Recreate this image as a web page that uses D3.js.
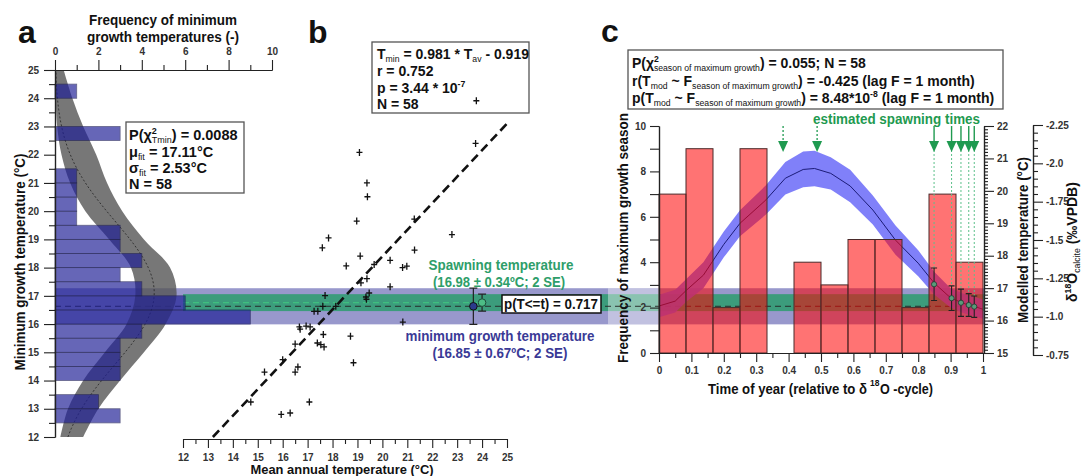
<!DOCTYPE html>
<html><head><meta charset="utf-8">
<script src="https://cdn.jsdelivr.net/npm/d3@7"></script>
<style>
body{margin:0;background:#fff}
text{font-family:"Liberation Sans",Arial,sans-serif;font-weight:bold;fill:#111}
.tick text{font-family:"Liberation Sans",Arial,sans-serif;font-weight:bold;fill:#333}
</style></head><body>
<svg id="fig" width="1082" height="476"></svg>
<script>
// ---- panel a: histogram of minimum growth temperatures (lower bin edge, 0.5 degC bins)
const binLow = [12.5, 13, 14, 14.5, 15, 15.5, 16, 16.5, 17, 17.5, 18, 18.5, 19, 19.5, 20, 20.5, 21, 22.5, 24];
const binCount = [3, 2, 3, 3, 3, 4, 9, 6, 4, 3, 4, 3, 3, 1, 1, 1, 1, 3, 1];
const fitMu = 17.11, fitSigma = 2.53, fitN = 58, binWidth = 0.5;
// grey envelope of the fit
const envT = [12, 13, 14, 15, 16, 17, 18, 19, 20, 21, 22, 23, 24, 25];
const envLo = [0.25, 0.6, 1.3, 2.3, 3.3, 3.7, 3.5, 2.5, 1.4, 0.7, 0.3, 0.1, 0.03, 0];
const envHi = [1.3, 2.0, 3.0, 4.1, 5.1, 5.6, 5.3, 4.1, 3.1, 2.4, 1.9, 1.3, 0.8, 0.4];

// ---- panel b: mean annual vs minimum growth temperature
const tav = [23.77, 23.74, 19.08, 19.38, 19.40, 18.97, 21.28, 22.79, 17.84, 17.59, 21.29, 19.11, 18.55, 20.31, 20.81, 20.98,
  19.67, 19.38, 19.14, 20.31, 19.47, 19.34, 19.36, 17.70, 17.61, 18.13, 17.26, 17.41, 20.82, 16.67, 16.70, 16.94, 17.10,
  17.63, 18.72, 16.50, 17.39, 17.53, 17.66, 16.00, 18.84, 15.27, 16.61, 16.50, 14.72, 17.07, 15.94, 16.30];
const tmin = [23.91, 22.40, 22.08, 21.00, 20.51, 19.65, 19.72, 19.17, 19.05, 18.70, 18.62, 18.41, 18.06, 18.26, 18.00, 18.05,
  18.11, 17.61, 17.46, 17.32, 17.10, 16.96, 16.88, 17.01, 16.63, 16.63, 16.45, 16.45, 16.07, 15.90, 15.82, 15.93, 15.90,
  15.63, 15.57, 15.29, 15.33, 15.27, 15.19, 14.74, 14.63, 14.30, 14.48, 14.30, 13.24, 13.24, 12.80, 12.85];
const regX = [13.2, 25.0], regY = [12.0, 23.1];
const minGrowth = {mid: 16.63, half: 0.64, x: 23.65};
const spawning = {mid: 16.76, half: 0.30, x: 24.0};

// ---- panel c: season of maximum growth
const monthCounts = [7, 9, 2, 9, 0, 4, 3, 5, 5, 2, 7, 4];
const modelT = [0, 0.05, 0.085, 0.137, 0.2, 0.25, 0.33, 0.39, 0.445, 0.48, 0.53, 0.59, 0.66, 0.73, 0.8, 0.85, 0.9, 0.935, 0.955, 0.975, 1];
const modelTemp = [16.45, 16.6, 16.94, 17.4, 18.35, 19.0, 19.72, 20.39, 20.66, 20.69, 20.54, 20.15, 19.41, 18.48, 17.77, 17.15, 16.7, 16.55, 16.48, 16.43, 16.35];
const modelSpread = [0.35, 0.35, 0.35, 0.4, 0.4, 0.4, 0.45, 0.5, 0.55, 0.55, 0.5, 0.5, 0.45, 0.45, 0.4, 0.35, 0.3, 0.3, 0.3, 0.3, 0.3];
const spawnT = [0.849, 0.903, 0.932, 0.956, 0.973];
const spawnTemp = [17.12, 16.69, 16.55, 16.48, 16.43];
const spawnErr = [0.5, 0.38, 0.42, 0.35, 0.33];
const dottedArrowT = [0.383, 0.488];
const d18Ticks = [-2.25, -2.0, -1.75, -1.5, -1.25, -1.0, -0.75];
const d18Labels = ["-2.25", "-2.0", "-1.75", "-1.5", "-1.25", "-1.0", "-0.75"];

const svg = d3.select("#fig");

// scales
const yT = d3.scaleLinear().domain([12, 25]).range([437, 70]);
const xF = d3.scaleLinear().domain([0, 10]).range([55, 272]);
const xB = d3.scaleLinear().domain([12, 25]).range([183, 507]);
const xC = d3.scaleLinear().domain([0, 1]).range([659, 983]);
const yCf = d3.scaleLinear().domain([0, 10]).range([353, 126]);
const yCt = d3.scaleLinear().domain([15, 22]).range([353, 126]);
const yCd = d3.scaleLinear().domain([-0.75, -2.25]).range([355, 125]);

// text with sub/superscripts; a part is "str" or [str, "sub"|"sup", dx]
function rich(sel, parts, size, len) {
  let shift = 0;
  parts.forEach(p => {
    const s = typeof p === "string" ? p : p[0];
    const kind = typeof p === "string" ? "n" : p[1];
    const target = kind === "sub" ? size * 0.18 : kind === "sup" ? -size * 0.4 : 0;
    const t = sel.append("tspan").attr("dy", target - shift)
      .attr("font-size", kind === "n" ? size : size * 0.62).text(s);
    if (kind === "sub") t.attr("font-weight", "normal");
    if (typeof p !== "string" && p[2]) t.attr("dx", p[2]);
    shift = target;
  });
  if (len) sel.attr("textLength", len).attr("lengthAdjust", "spacingAndGlyphs");
  return sel;
}
function label(g, x, y, str, size, len, color, anchor) {
  const t = g.append("text").attr("x", x).attr("y", y).attr("font-size", size)
    .attr("text-anchor", anchor || "start").text(str);
  if (len) t.attr("textLength", len).attr("lengthAdjust", "spacingAndGlyphs");
  if (color) t.style("fill", color);
  return t;
}

// ---------- horizontal temperature bands across panels ----------
const bandG = svg.append("g");
bandG.append("rect").attr("x", 55).attr("width", 984 - 55)
  .attr("y", yT(minGrowth.mid + minGrowth.half))
  .attr("height", yT(minGrowth.mid - minGrowth.half) - yT(minGrowth.mid + minGrowth.half))
  .attr("fill", "#9898cc");
bandG.append("rect").attr("x", xB(12)).attr("width", 984 - xB(12))
  .attr("y", yT(spawning.mid + spawning.half))
  .attr("height", yT(spawning.mid - spawning.half) - yT(spawning.mid + spawning.half))
  .attr("fill", "#3c9c7c");
bandG.append("rect").attr("x", 608).attr("width", 51)
  .attr("y", yT(minGrowth.mid + minGrowth.half))
  .attr("height", yT(minGrowth.mid - minGrowth.half) - yT(minGrowth.mid + minGrowth.half))
  .attr("fill", "#fff").attr("opacity", 0.4);
bandG.append("line").attr("x1", xB(12)).attr("x2", xB(spawning.x) - 4)
  .attr("y1", yT(spawning.mid)).attr("y2", yT(spawning.mid))
  .attr("stroke", "#3fbf7f").attr("stroke-width", 1.2).attr("stroke-dasharray", "6,4");
bandG.append("line").attr("x1", 55).attr("x2", 984)
  .attr("y1", yT(minGrowth.mid)).attr("y2", yT(minGrowth.mid))
  .attr("stroke", "#222").attr("stroke-width", 0.9).attr("stroke-dasharray", "6,4");

// ---------- panel a ----------
const a = svg.append("g");
const env = envT.map((t, i) => ({t: t, lo: envLo[i], hi: envHi[i]}));
a.append("path").datum(env)
  .attr("d", d3.area().y(d => yT(d.t)).x0(d => xF(d.lo)).x1(d => xF(d.hi)).curve(d3.curveCatmullRom))
  .attr("fill", "#555").attr("opacity", 0.8);
const fitPts = d3.range(12, 25.001, 0.1).map(t => ({t: t,
  f: fitN * binWidth / (fitSigma * Math.sqrt(2 * Math.PI)) * Math.exp(-((t - fitMu) ** 2) / (2 * fitSigma ** 2))}));
a.append("path").datum(fitPts)
  .attr("d", d3.line().y(d => yT(d.t)).x(d => xF(d.f)))
  .attr("fill", "none").attr("stroke", "#222").attr("stroke-width", 0.8).attr("stroke-dasharray", "2,2");
a.selectAll("rect.bar").data(binLow).enter().append("rect")
  .attr("x", xF(0)).attr("y", d => yT(d + binWidth))
  .attr("width", (d, i) => xF(binCount[i]) - xF(0))
  .attr("height", d => yT(d) - yT(d + binWidth))
  .attr("fill", "#1e1e96").attr("opacity", 0.68)
  .attr("stroke", "#1a1a50").attr("stroke-width", 0.8);

a.append("g").attr("transform", "translate(55,0)")
  .call(d3.axisLeft(yT).tickValues(d3.range(12, 26)).tickSize(11).tickSizeOuter(0).tickPadding(5));
a.append("g").attr("transform", "translate(55,0)")
  .call(d3.axisLeft(yT).tickValues(d3.range(12.5, 25, 1)).tickSize(6).tickSizeOuter(0).tickFormat(""));
a.append("g").attr("transform", "translate(0,70)")
  .call(d3.axisTop(xF).tickValues([0, 2, 4, 6, 8, 10]).tickSize(10).tickSizeOuter(0).tickPadding(5));
a.append("g").attr("transform", "translate(0,70)")
  .call(d3.axisTop(xF).tickValues([1, 3, 5, 7, 9]).tickSize(5).tickSizeOuter(0).tickFormat(""));

label(a, 163, 25, "Frequency of minimum", 14, 148, null, "middle");
label(a, 163, 42, "growth temperatures (-)", 14, 152, null, "middle");
a.append("text").attr("transform", "translate(25,262) rotate(-90)").attr("text-anchor", "middle")
  .attr("font-size", 14).attr("textLength", 217).attr("lengthAdjust", "spacingAndGlyphs")
  .text("Minimum growth temperature (°C)");

a.append("rect").attr("x", 126).attr("y", 122).attr("width", 118).attr("height", 71)
  .attr("fill", "#fff").attr("stroke", "#555").attr("stroke-width", 1.3);
rich(a.append("text").attr("x", 129).attr("y", 140), ["P(χ", ["2", "sup"], ["Tmin", "sub", -5], ") = 0.0088"], 14.5);
rich(a.append("text").attr("x", 129).attr("y", 157), ["μ", ["fit", "sub"], " = 17.11°C"], 14.5);
rich(a.append("text").attr("x", 129).attr("y", 173), ["σ", ["fit", "sub"], " = 2.53°C"], 14.5);
rich(a.append("text").attr("x", 129).attr("y", 189), ["N = 58"], 14.5);

// ---------- panel b ----------
const b = svg.append("g");
b.append("rect").attr("x", 372).attr("y", 42).attr("width", 157).attr("height", 71)
  .attr("fill", "#fff").attr("stroke", "#555").attr("stroke-width", 1.3);
rich(b.append("text").attr("x", 377).attr("y", 59), ["T", ["min", "sub"], " = 0.981 * T", ["av", "sub"], " - 0.919"], 14);
rich(b.append("text").attr("x", 377).attr("y", 76), ["r = 0.752"], 14);
rich(b.append("text").attr("x", 377).attr("y", 93), ["p = 3.44 * 10", ["-7", "sup"]], 14);
rich(b.append("text").attr("x", 377).attr("y", 109), ["N = 58"], 14);

b.append("line").attr("x1", xB(regX[0])).attr("y1", yT(regY[0])).attr("x2", xB(regX[1])).attr("y2", yT(regY[1]))
  .attr("stroke", "#111").attr("stroke-width", 2.6).attr("stroke-dasharray", "9,5");
b.selectAll("path.pt").data(tav).enter().append("path")
  .attr("transform", (d, i) => `translate(${xB(d)},${yT(tmin[i])})`)
  .attr("d", "M-3,0H3M0,-3.5V3.5").attr("stroke", "#111").attr("stroke-width", 1.3);

b.append("g").attr("transform", "translate(0,439)")
  .call(d3.axisBottom(xB).tickValues(d3.range(12, 26)).tickSize(9).tickSizeOuter(0).tickPadding(6));
b.append("g").attr("transform", "translate(0,439)")
  .call(d3.axisBottom(xB).tickValues(d3.range(12.5, 25, 1)).tickSize(5).tickSizeOuter(0).tickFormat(""));
label(b, 342, 474, "Mean annual temperature (°C)", 13.5, 183, null, "middle");

// error bars of the two means
[[minGrowth, "#2b3a8c", "#111"], [spawning, "#4dbd86", "#1d4d3a"]].forEach(([m, fill, stroke]) => {
  const x = xB(m.x);
  b.append("path").attr("d", `M${x},${yT(m.mid + m.half)}V${yT(m.mid - m.half)}M${x - 4},${yT(m.mid + m.half)}h8M${x - 4},${yT(m.mid - m.half)}h8`)
    .attr("stroke", "#222").attr("stroke-width", 1.2).attr("fill", "none");
  b.append("circle").attr("cx", x).attr("cy", yT(m.mid)).attr("r", 3.8).attr("fill", fill).attr("stroke", stroke);
});
b.append("rect").attr("x", 502).attr("y", 295).attr("width", 99).attr("height", 18)
  .attr("fill", "#fff").attr("stroke", "#111").attr("stroke-width", 1.5);
label(b, 504, 309, "p(T<=t) = 0.717", 15, 94);
label(b, 501, 270, "Spawning temperature", 15, 145, "#2e9e6a", "middle");
label(b, 499, 287, "(16.98 ± 0.34ºC; 2 SE)", 15, 132, "#2e9e6a", "middle");
label(b, 500, 341, "minimum growth temperature", 15, 189, "#3a3a96", "middle");
label(b, 500, 358, "(16.85 ± 0.67ºC; 2 SE)", 15, 135, "#3a3a96", "middle");

// ---------- panel c ----------
const c = svg.append("g");
const model = modelT.map((t, i) => ({t: t, v: modelTemp[i], s: modelSpread[i]}));
c.append("path").datum(model)
  .attr("d", d3.area().x(d => xC(d.t)).y0(d => yCt(d.v - d.s)).y1(d => yCt(d.v + d.s)))
  .attr("fill", "#6e6ef8").attr("opacity", 0.88);
c.append("path").datum(model)
  .attr("d", d3.line().x(d => xC(d.t)).y(d => yCt(d.v)))
  .attr("fill", "none").attr("stroke", "#1c1c78").attr("stroke-width", 1);
c.selectAll("rect.mbar").data(monthCounts).enter().append("rect")
  .attr("x", (d, i) => xC(i / 12)).attr("width", xC(1 / 12) - xC(0))
  .attr("y", d => yCf(d)).attr("height", d => yCf(0) - yCf(d))
  .attr("fill", "#ff0000").attr("fill-opacity", 0.55)
  .attr("stroke", "#4a2a2a").attr("stroke-width", d => d > 0 ? 1 : 0);

// dotted guide lines, error bars and dots of spawning times
spawnT.forEach((t, i) => {
  const x = xC(t);
  c.append("line").attr("x1", x).attr("x2", x).attr("y1", 150).attr("y2", yCt(spawnTemp[i] + spawnErr[i]))
    .attr("stroke", "#5cc08a").attr("stroke-width", 1).attr("stroke-dasharray", "2,2");
  c.append("path").attr("d", `M${x},${yCt(spawnTemp[i] + spawnErr[i])}V${yCt(spawnTemp[i] - spawnErr[i])}M${x - 3},${yCt(spawnTemp[i] + spawnErr[i])}h6M${x - 3},${yCt(spawnTemp[i] - spawnErr[i])}h6`)
    .attr("stroke", "#222").attr("stroke-width", 1.1).attr("fill", "none");
  c.append("circle").attr("cx", x).attr("cy", yCt(spawnTemp[i])).attr("r", 2.6)
    .attr("fill", "#5a9a7a").attr("stroke", "#1e3a2e").attr("stroke-width", 0.8);
  c.append("line").attr("x1", x).attr("x2", x).attr("y1", 126).attr("y2", 142)
    .attr("stroke", "#1f9a50").attr("stroke-width", 1.4);
  c.append("path").attr("d", `M${x - 5},${141}L${x + 5},${141}L${x},${152}Z`).attr("fill", "#1f9a50");
});
dottedArrowT.forEach(t => {
  const x = xC(t);
  c.append("line").attr("x1", x).attr("x2", x).attr("y1", 126).attr("y2", 142)
    .attr("stroke", "#1f9a50").attr("stroke-width", 1.3).attr("stroke-dasharray", "2,2");
  c.append("path").attr("d", `M${x - 5},${141}L${x + 5},${141}L${x},${152}Z`).attr("fill", "#1f9a50");
});
label(c, 813, 124, "estimated spawning times", 14, 167, "#1f9a50");

// axes of panel c
c.append("g").attr("transform", "translate(659,0)")
  .call(d3.axisLeft(yCf).tickValues([0, 2, 4, 6, 8, 10]).tickSize(9).tickSizeOuter(0).tickPadding(4));
c.append("g").attr("transform", "translate(659,0)")
  .call(d3.axisLeft(yCf).tickValues([1, 3, 5, 7, 9]).tickSize(9).tickSizeOuter(0).tickFormat(""));
c.append("g").attr("transform", "translate(0,353)")
  .call(d3.axisBottom(xC).tickValues(d3.range(0, 11).map(d => d / 10)).tickSize(9).tickSizeOuter(0).tickPadding(5)
    .tickFormat(d => (d === 0 || d === 1) ? d : d.toFixed(1)));
c.append("g").attr("transform", "translate(0,353)")
  .call(d3.axisBottom(xC).tickValues(d3.range(0, 10).map(d => d / 10 + 0.05)).tickSize(5).tickSizeOuter(0).tickFormat(""));
c.append("g").attr("transform", "translate(984,0)")
  .call(d3.axisRight(yCt).tickValues(d3.range(15, 23)).tickSize(10).tickSizeOuter(0).tickPadding(3).tickFormat(d3.format("d")));
c.append("g").attr("transform", "translate(984,0)")
  .call(d3.axisRight(yCt).tickValues(d3.range(151, 220).filter(d => d % 10 !== 0).map(d => d / 10)).tickSize(4).tickSizeOuter(0).tickFormat(""));
c.append("g").attr("transform", "translate(1033,0)")
  .call(d3.axisRight(yCd).tickValues(d18Ticks).tickSize(10).tickSizeOuter(0).tickPadding(3)
    .tickFormat((d, i) => d18Labels[i]));
c.append("g").attr("transform", "translate(1033,0)")
  .call(d3.axisRight(yCd).tickValues(d3.range(-220, -75, 5).filter(d => d % 25 !== 0).map(d => d / 100)).tickSize(5).tickSizeOuter(0).tickFormat(""));

c.append("text").attr("transform", "translate(628,238) rotate(-90)").attr("text-anchor", "middle")
  .attr("font-size", 14).attr("textLength", 250).attr("lengthAdjust", "spacingAndGlyphs")
  .text("Frequency of maximum growth season");
c.append("text").attr("transform", "translate(1028,240) rotate(-90)").attr("text-anchor", "middle")
  .attr("font-size", 14).attr("textLength", 166).attr("lengthAdjust", "spacingAndGlyphs")
  .text("Modelled temperature (°C)");
rich(c.append("text").attr("transform", "translate(1077,242) rotate(-90)").attr("text-anchor", "middle"),
  ["δ", ["18", "sup"], "O", ["calcite", "sub"], " (‰VPDB)"], 14);
// x title split in three runs so each can be fitted to its width
label(c, 708, 394, "Time of year (relative to  δ", 14, 159);
label(c, 870, 386, "18", 8.5);
label(c, 880, 394, "O -cycle)", 14, 53);

c.append("rect").attr("x", 628).attr("y", 50).attr("width", 375).attr("height", 59)
  .attr("fill", "#fff").attr("stroke", "#555").attr("stroke-width", 1.3);
rich(c.append("text").attr("x", 632).attr("y", 68),
  ["P(χ", ["2", "sup"], ["season of maximum growth", "sub", -5], ") = 0.055; N = 58"], 14);
rich(c.append("text").attr("x", 632).attr("y", 86),
  ["r(T", ["mod", "sub"], " ~ F", ["season of maximum growth", "sub"], ") = -0.425 (lag F = 1 month)"], 14);
rich(c.append("text").attr("x", 632).attr("y", 103),
  ["p(T", ["mod", "sub"], " ~ F", ["season of maximum growth", "sub"], ") = 8.48*10", ["-8", "sup"], " (lag F = 1 month)"], 14);

// panel letters
svg.append("text").attr("x", 18).attr("y", 43).attr("font-size", 32).text("a");
svg.append("text").attr("x", 308).attr("y", 43).attr("font-size", 32).text("b");
svg.append("text").attr("x", 601).attr("y", 42).attr("font-size", 32).text("c");

// axis styling
svg.selectAll(".tick text").attr("font-size", 10);
svg.selectAll(".domain").attr("stroke", "#222").attr("stroke-width", 1.2);
svg.selectAll(".tick line").attr("stroke", "#222").attr("stroke-width", 1.1);
</script></body></html>
